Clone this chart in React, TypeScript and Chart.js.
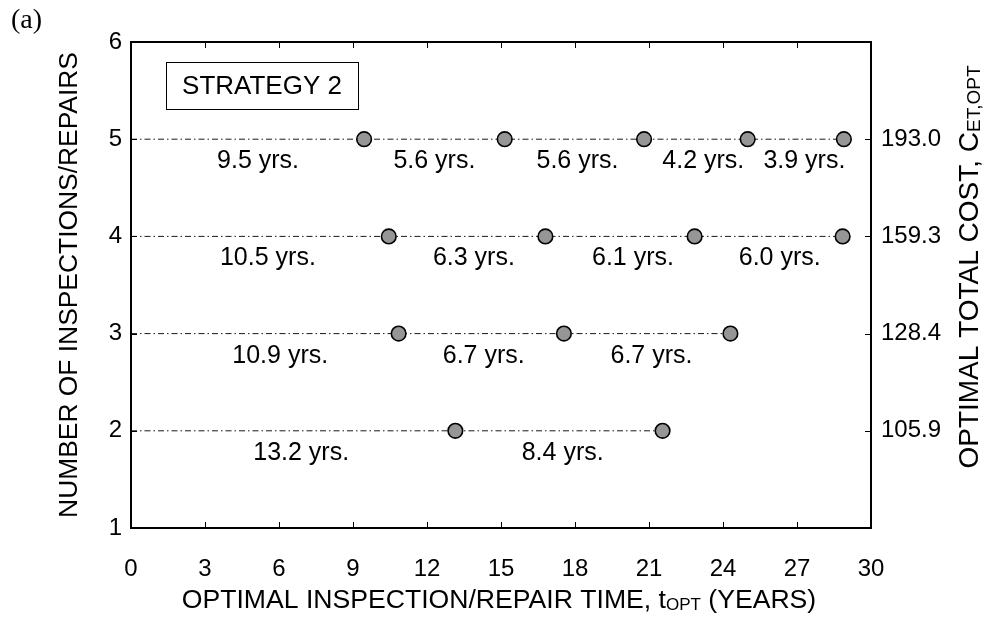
import React, { useEffect, useRef } from 'react';
import { Chart, registerables } from 'chart.js';

Chart.register(...registerables);

const SANS = '"Liberation Sans", Arial, Helvetica, sans-serif';
const SERIF = '"Liberation Serif", "Times New Roman", serif';

// Number of inspections/repairs (y levels)
const levels = [5, 4, 3, 2];

// Optimal inspection/repair times (years) for each level
const times5 = [9.45, 15.15, 20.8, 25.0, 28.9];
const times4 = [10.45, 16.8, 22.85, 28.85];
const times3 = [10.85, 17.55, 24.3];
const times2 = [13.15, 21.55];

// Interval labels between successive times
const intervals5 = ['9.5 yrs.', '5.6 yrs.', '5.6 yrs.', '4.2 yrs.', '3.9 yrs.'];
const intervals4 = ['10.5 yrs.', '6.3 yrs.', '6.1 yrs.', '6.0 yrs.'];
const intervals3 = ['10.9 yrs.', '6.7 yrs.', '6.7 yrs.'];
const intervals2 = ['13.2 yrs.', '8.4 yrs.'];

// Horizontal centres (years) of interval labels
const labelX5 = [5.15, 12.3, 18.1, 23.2, 27.3];
const labelX4 = [5.55, 13.9, 20.35, 26.3];
const labelX3 = [6.05, 14.3, 21.1];
const labelX2 = [6.9, 17.5];

// Right-axis optimal total cost labels
const costLevels = [5, 4, 3, 2];
const costValues = ['193.0', '159.3', '128.4', '105.9'];

// Axis ticks
const xMin = 0;
const xMax = 30;
const xStep = 3;
const yMin = 1;
const yMax = 6;

const rows = [
  { level: levels[0], times: times5, labels: intervals5, labelX: labelX5 },
  { level: levels[1], times: times4, labels: intervals4, labelX: labelX4 },
  { level: levels[2], times: times3, labels: intervals3, labelX: labelX3 },
  { level: levels[3], times: times2, labels: intervals2, labelX: labelX2 },
];

function drawRich(
  ctx: CanvasRenderingContext2D,
  parts: { text: string; sub?: boolean }[],
  cx: number,
  baseY: number,
  size: number,
  subSize: number,
  subDrop: number
) {
  let total = 0;
  const widths = parts.map((p) => {
    ctx.font = `${p.sub ? subSize : size}px ${SANS}`;
    const w = ctx.measureText(p.text).width;
    total += w;
    return w;
  });
  let x = cx - total / 2;
  ctx.textAlign = 'left';
  ctx.textBaseline = 'alphabetic';
  parts.forEach((p, i) => {
    ctx.font = `${p.sub ? subSize : size}px ${SANS}`;
    ctx.fillText(p.text, x, baseY + (p.sub ? subDrop : 0));
    x += widths[i];
  });
}

const framePlugin = {
  id: 'framePlugin',
  afterDraw(chart: any) {
    const { ctx, chartArea: a, scales } = chart;
    const xs = scales.x;
    const ys = scales.y;
    ctx.save();
    ctx.fillStyle = '#000';
    ctx.strokeStyle = '#000';

    // interval labels
    ctx.font = `25px ${SANS}`;
    ctx.textAlign = 'center';
    ctx.textBaseline = 'middle';
    rows.forEach((r) => {
      r.labels.forEach((t, i) => {
        ctx.fillText(t, xs.getPixelForValue(r.labelX[i]), ys.getPixelForValue(r.level - 0.228));
      });
    });

    // Strategy box
    const bx1 = xs.getPixelForValue(1.42);
    const bx2 = xs.getPixelForValue(9.2);
    const by1 = ys.getPixelForValue(5.794);
    const by2 = ys.getPixelForValue(5.31);
    ctx.fillStyle = '#fff';
    ctx.fillRect(bx1, by1, bx2 - bx1, by2 - by1);
    ctx.lineWidth = 1;
    ctx.strokeRect(Math.round(bx1) + 0.5, Math.round(by1) + 0.5, Math.round(bx2 - bx1), Math.round(by2 - by1));
    ctx.fillStyle = '#000';
    ctx.font = `26px ${SANS}`;
    ctx.textAlign = 'center';
    ctx.textBaseline = 'middle';
    ctx.fillText('STRATEGY 2', (bx1 + bx2) / 2, (by1 + by2) / 2 + 1);

    // frame
    ctx.lineWidth = 2;
    ctx.strokeRect(a.left, a.top, a.right - a.left, a.bottom - a.top);

    // inward ticks
    ctx.lineWidth = 1;
    ctx.beginPath();
    for (let v = xMin + xStep; v < xMax; v += xStep) {
      const px = Math.round(xs.getPixelForValue(v)) + 0.5;
      ctx.moveTo(px, a.bottom);
      ctx.lineTo(px, a.bottom - 6);
      ctx.moveTo(px, a.top);
      ctx.lineTo(px, a.top + 6);
    }
    for (let v = yMin + 1; v < yMax; v += 1) {
      const py = Math.round(ys.getPixelForValue(v)) + 0.5;
      ctx.moveTo(a.left, py);
      ctx.lineTo(a.left + 6, py);
      ctx.moveTo(a.right, py);
      ctx.lineTo(a.right - 6, py);
    }
    ctx.stroke();

    // x title
    drawRich(
      ctx,
      [{ text: 'OPTIMAL INSPECTION/REPAIR TIME, t' }, { text: 'OPT', sub: true }, { text: ' (YEARS)' }],
      (a.left + a.right) / 2 - 2,
      608,
      26.6,
      17,
      2
    );

    // left title
    ctx.save();
    ctx.translate(77, (a.top + a.bottom) / 2);
    ctx.rotate(-Math.PI / 2);
    drawRich(ctx, [{ text: 'NUMBER OF INSPECTIONS/REPAIRS' }], 0, 0, 26.4, 17, 0);
    ctx.restore();

    // right title
    ctx.save();
    ctx.translate(978, 267);
    ctx.rotate(-Math.PI / 2);
    drawRich(ctx, [{ text: 'OPTIMAL TOTAL COST, C' }, { text: 'ET,OPT', sub: true }], 0, 0, 28, 19, 2);
    ctx.restore();

    // panel tag
    ctx.font = `28px ${SERIF}`;
    ctx.textAlign = 'left';
    ctx.textBaseline = 'alphabetic';
    ctx.fillText('(a)', 11, 28);

    ctx.restore();
  },
};

export default function App() {
  const ref = useRef<HTMLCanvasElement>(null);

  useEffect(() => {
    const canvas = ref.current;
    if (!canvas) return;

    const datasets = rows.map((r) => ({
      data: [{ x: xMin, y: r.level }, ...r.times.map((t) => ({ x: t, y: r.level }))],
      showLine: true,
      borderColor: '#1a1a1a',
      borderWidth: 1,
      borderDash: [6, 3, 1.5, 3],
      pointRadius: (c: any) => (c.dataIndex === 0 ? 0 : 7.3),
      pointHoverRadius: (c: any) => (c.dataIndex === 0 ? 0 : 7.3),
      pointBackgroundColor: '#969696',
      pointBorderColor: '#000',
      pointBorderWidth: 1.6,
      clip: false as any,
    }));

    const tickFont = { family: SANS, size: 24 };

    const chart = new Chart(canvas, {
      type: 'scatter',
      data: { datasets },
      options: {
        animation: false,
        responsive: false,
        events: [],
        layout: { padding: { top: 42, left: 0, right: 0, bottom: 0 } },
        plugins: { legend: { display: false }, tooltip: { enabled: false } },
        scales: {
          x: {
            type: 'linear',
            position: 'bottom',
            min: xMin,
            max: xMax,
            grid: { display: false, drawTicks: false },
            border: { display: false },
            ticks: { stepSize: xStep, font: tickFont, color: '#000', padding: 27, autoSkip: false, maxRotation: 0 },
            afterFit: (s: any) => {
              s.height = 99;
            },
          },
          y: {
            type: 'linear',
            position: 'left',
            min: yMin,
            max: yMax,
            grid: { display: false, drawTicks: false },
            border: { display: false },
            ticks: { stepSize: 1, font: tickFont, color: '#000', padding: 9 },
            afterFit: (s: any) => {
              s.width = 131;
            },
          },
          y2: {
            type: 'linear',
            position: 'right',
            min: yMin,
            max: yMax,
            grid: { display: false, drawTicks: false },
            border: { display: false },
            ticks: {
              stepSize: 1,
              font: tickFont,
              color: '#000',
              padding: 10,
              callback: (v: any) => {
                const i = costLevels.indexOf(Number(v));
                return i >= 0 ? costValues[i] : '';
              },
            },
            afterFit: (s: any) => {
              s.width = 116;
            },
          },
        },
      },
      plugins: [framePlugin],
    });

    return () => chart.destroy();
  }, []);

  return (
    <div style={{ position: 'absolute', left: 0, top: 0, width: 987, height: 627, background: '#fff' }}>
      <canvas ref={ref} width={987} height={627} style={{ display: 'block' }} />
    </div>
  );
}
